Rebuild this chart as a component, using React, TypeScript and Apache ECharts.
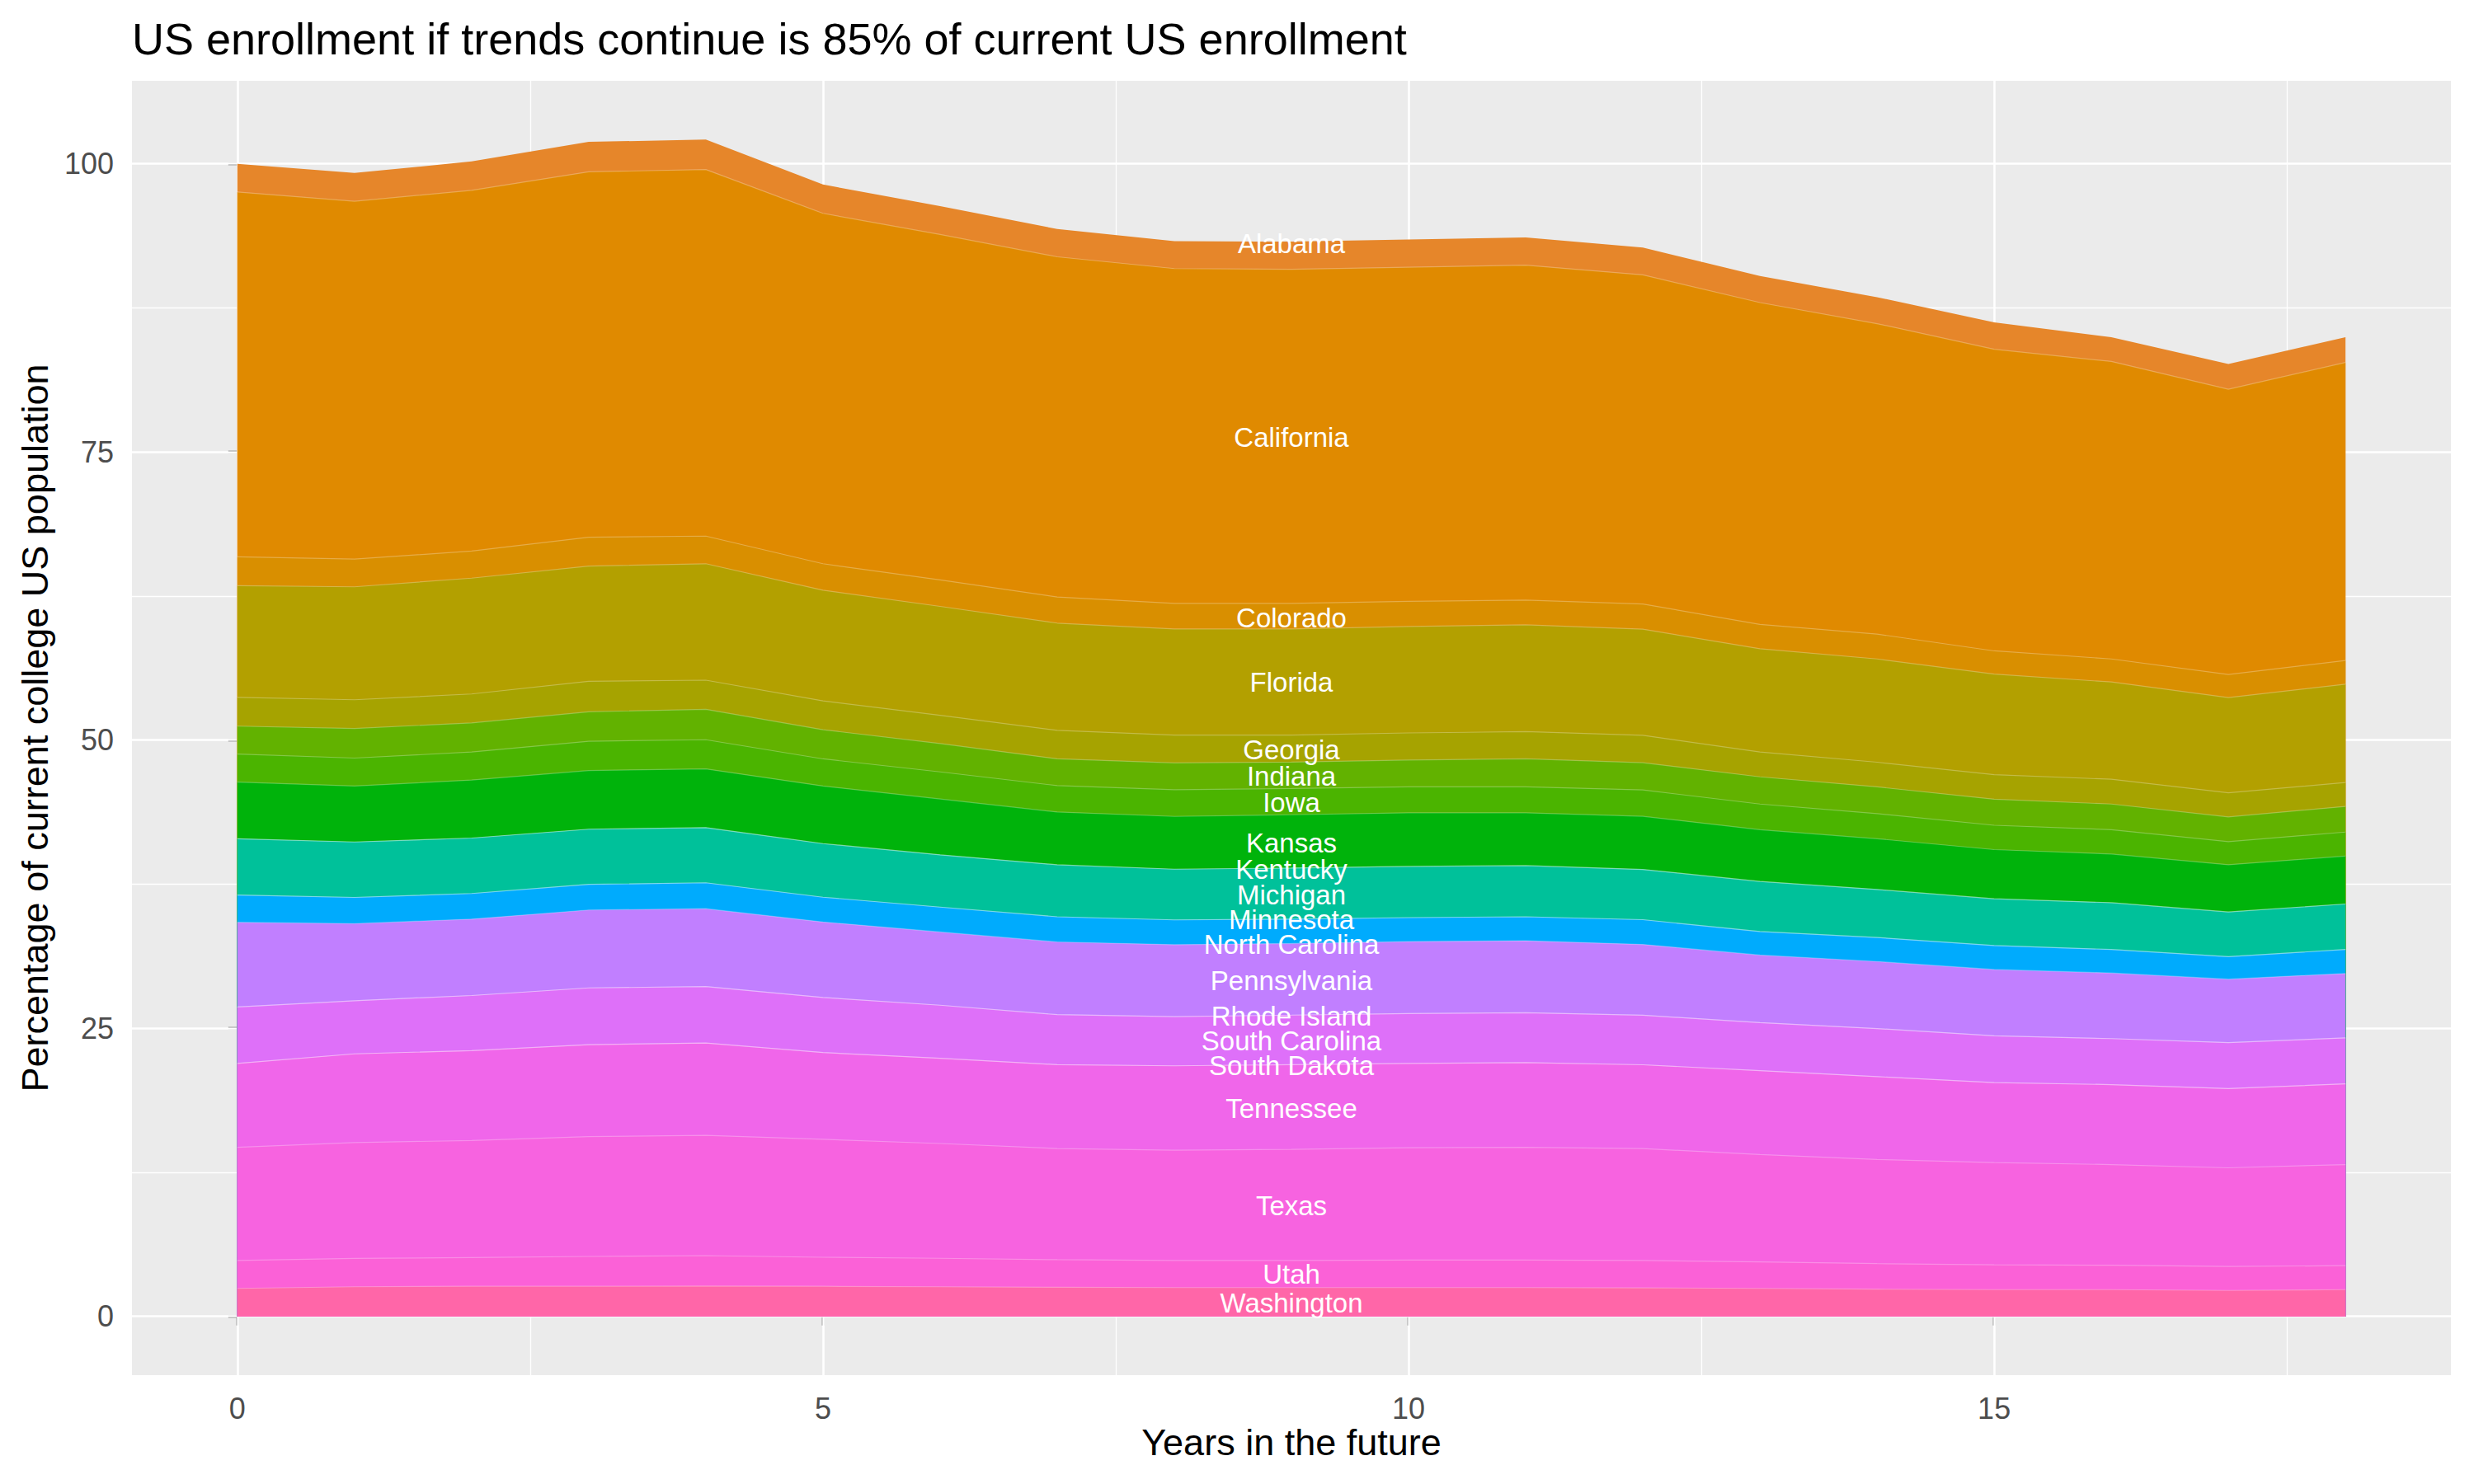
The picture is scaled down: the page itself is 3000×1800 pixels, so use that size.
import * as echarts from "echarts"
import { useEffect, useRef } from "react"

// years in the future
const years = [0, 1, 2, 3, 4, 5, 6, 7, 8, 9, 10, 11, 12, 13, 14, 15, 16, 17, 18]

// states, alphabetical (ggplot stacks the first level on top)
const states = [
  "Alabama",
  "California",
  "Colorado",
  "Florida",
  "Georgia",
  "Indiana",
  "Iowa",
  "Kansas",
  "Kentucky",
  "Michigan",
  "Minnesota",
  "North Carolina",
  "Pennsylvania",
  "Rhode Island",
  "South Carolina",
  "South Dakota",
  "Tennessee",
  "Texas",
  "Utah",
  "Washington",
]

// percentage of current college US population, per year
const alabama = [2.45, 2.45, 2.5, 2.6, 2.6, 2.5, 2.46, 2.41, 2.37, 2.41, 2.41, 2.41, 2.37, 2.3, 2.3, 2.33, 2.11, 2.19, 2.19]
const california = [31.65, 31.05, 31.3, 31.7, 31.8, 30.4, 29.97, 29.52, 29.05, 28.98, 28.98, 29.05, 28.55, 27.92, 26.93, 26.17, 25.81, 24.75, 25.87]
const colorado = [2.5, 2.4, 2.35, 2.5, 2.4, 2.3, 2.3, 2.26, 2.22, 2.22, 2.19, 2.15, 2.19, 2.12, 2.16, 2.01, 2.0, 2.0, 2.05]
const florida = [9.7, 9.8, 10.05, 10.0, 10.1, 9.6, 9.45, 9.31, 9.2, 9.2, 9.23, 9.27, 9.21, 8.95, 8.96, 8.73, 8.44, 8.27, 8.53]
const georgia = [2.49, 2.49, 2.51, 2.64, 2.53, 2.5, 2.45, 2.47, 2.42, 2.35, 2.35, 2.36, 2.37, 2.16, 2.14, 2.13, 2.15, 2.08, 2.08]
const indiana = [2.42, 2.57, 2.53, 2.56, 2.64, 2.53, 2.46, 2.32, 2.32, 2.29, 2.33, 2.43, 2.37, 2.36, 2.32, 2.26, 2.22, 2.15, 2.22]
const iowa = [2.43, 2.43, 2.43, 2.54, 2.53, 2.36, 2.35, 2.29, 2.32, 2.28, 2.25, 2.25, 2.28, 2.22, 2.18, 2.11, 2.11, 2.01, 2.08]
const kansas = [4.92, 4.85, 5.03, 5.09, 5.09, 4.99, 4.84, 4.58, 4.58, 4.62, 4.65, 4.58, 4.61, 4.5, 4.4, 4.27, 4.23, 4.09, 4.16]
const kentucky = [0, 0, 0, 0, 0, 0, 0, 0, 0, 0, 0, 0, 0, 0, 0, 0, 0, 0, 0]
const michigan = [4.89, 4.81, 4.81, 4.79, 4.79, 4.65, 4.54, 4.51, 4.4, 4.43, 4.44, 4.44, 4.36, 4.34, 4.17, 4.05, 4.06, 3.88, 3.95]
const minnesota = [0, 0, 0, 0, 0, 0, 0, 0, 0, 0, 0, 0, 0, 0, 0, 0, 0, 0, 0]
const northCarolina = [2.36, 2.27, 2.22, 2.22, 2.25, 2.15, 2.16, 2.18, 2.15, 2.12, 2.08, 2.08, 2.15, 2.04, 2.08, 2.08, 2.04, 1.95, 2.08]
const pennsylvania = [7.35, 6.69, 6.63, 6.76, 6.76, 6.55, 6.35, 6.31, 6.24, 6.21, 6.24, 6.24, 6.14, 5.86, 5.82, 5.76, 5.69, 5.51, 5.58]
const rhodeIsland = [0, 0, 0, 0, 0, 0, 0, 0, 0, 0, 0, 0, 0, 0, 0, 0, 0, 0, 0]
const southCarolina = [4.89, 4.61, 4.78, 4.92, 4.89, 4.78, 4.6, 4.34, 4.27, 4.3, 4.33, 4.33, 4.3, 4.17, 4.17, 4.06, 3.99, 3.99, 3.99]
const southDakota = [0, 0, 0, 0, 0, 0, 0, 0, 0, 0, 0, 0, 0, 0, 0, 0, 0, 0, 0]
const tennessee = [7.28, 7.7, 7.8, 7.98, 8.01, 7.53, 7.4, 7.28, 7.32, 7.35, 7.32, 7.35, 7.27, 7.28, 7.18, 6.93, 6.94, 6.87, 7.01]
const texas = [9.82, 10.05, 10.16, 10.4, 10.44, 10.23, 9.96, 9.64, 9.57, 9.64, 9.74, 9.78, 9.71, 9.32, 9.04, 8.88, 8.73, 8.56, 8.77]
const utah = [2.42, 2.46, 2.49, 2.59, 2.63, 2.52, 2.47, 2.39, 2.35, 2.35, 2.39, 2.39, 2.37, 2.29, 2.22, 2.15, 2.12, 2.08, 2.08]
const washington = [2.43, 2.57, 2.61, 2.61, 2.64, 2.61, 2.57, 2.53, 2.5, 2.5, 2.5, 2.5, 2.48, 2.43, 2.36, 2.32, 2.32, 2.25, 2.32]

const stateValues = [
  alabama, california, colorado, florida, georgia, indiana, iowa, kansas,
  kentucky, michigan, minnesota, northCarolina, pennsylvania, rhodeIsland,
  southCarolina, southDakota, tennessee, texas, utah, washington,
]

const stateColors = [
  "#E6862A", "#E08A00", "#D98F00", "#B3A000", "#A6A300", "#62B200", "#4BB400",
  "#00B30B", "#00BA82", "#00C19A", "#00B8C8", "#00ABFD", "#C17FFF", "#D277FC",
  "#DE70F9", "#E86BF2", "#F066EA", "#F763E0", "#FB61D7", "#FF66A8",
]

// where ggplot put the state names (x year, y percentage)
const labelX = 9
const labelY = [
  93.07, 76.24, 60.58, 55.0, 49.18, 46.87, 44.55, 41.09, 38.76, 36.57,
  34.42, 32.27, 29.16, 26.07, 23.87, 21.75, 18.05, 9.62, 3.69, 1.16,
]

const xTicks = [0, 5, 10, 15]
const xMinor = [2.5, 7.5, 12.5, 17.5]
const yTicks = [0, 25, 50, 75, 100]
const yMinor = [12.5, 37.5, 62.5, 87.5]

const FONT = "'Liberation Sans', Arial, Helvetica, sans-serif"

export default function App() {
  const ref = useRef<HTMLDivElement>(null)

  useEffect(() => {
    if (!ref.current) return
    const chart = echarts.init(ref.current, undefined, { renderer: "svg" })

    const major = { color: "#FFFFFF", width: 2.6, type: "solid" as const }
    const minor = { color: "#FFFFFF", width: 1.3, type: "solid" as const }
    const gridLines = [
      ...xTicks.map((v) => ({ xAxis: v, lineStyle: major })),
      ...xMinor.map((v) => ({ xAxis: v, lineStyle: minor })),
      ...yTicks.map((v) => ({ yAxis: v, lineStyle: major })),
      ...yMinor.map((v) => ({ yAxis: v, lineStyle: minor })),
    ]

    // top edge of each state's band = its value plus every state stacked below it;
    // bands are painted top-first so each lower band covers the rest of the fill
    const areaSeries = states.map((name, i) => ({
      name,
      type: "line",
      data: years.map((x, j) => {
        let top = 0
        for (let k = i; k < states.length; k++) top += stateValues[k][j]
        return [x, +top.toFixed(3)]
      }),
      symbol: "none",
      // faint light seam along each band's upper edge, as in the ggplot render
      lineStyle:
        i === 0
          ? { width: 0, color: stateColors[i] }
          : { width: 1.2, color: "rgba(255,255,255,0.28)" },
      areaStyle: { color: stateColors[i], opacity: 1, origin: 0 },
      itemStyle: { color: stateColors[i] },
      z: 2,
      silent: true,
      markLine:
        i === 0
          ? {
              silent: true,
              symbol: "none",
              z: 1,
              label: { show: false },
              data: gridLines,
              animation: false,
            }
          : undefined,
    }))

    chart.setOption({
      animation: false,
      backgroundColor: "#FFFFFF",
      textStyle: { fontFamily: FONT },
      grid: {
        left: 160,
        right: 28,
        top: 98,
        bottom: 132,
        show: true,
        backgroundColor: "#EBEBEB",
        borderWidth: 0,
      },
      xAxis: {
        type: "value",
        min: -0.9,
        max: 18.9,
        axisLine: { show: false },
        axisTick: {
          customValues: xTicks,
          length: 11,
          lineStyle: { color: "#333333", width: 2.4 },
        },
        axisLabel: {
          customValues: xTicks,
          margin: 22,
          color: "#4D4D4D",
          fontSize: 36,
          fontFamily: FONT,
        },
        splitLine: { show: false },
      },
      yAxis: {
        type: "value",
        min: -5.1,
        max: 107.2,
        axisLine: { show: false },
        axisTick: {
          customValues: yTicks,
          length: 11,
          lineStyle: { color: "#333333", width: 2.4 },
        },
        axisLabel: {
          customValues: yTicks,
          margin: 22,
          color: "#4D4D4D",
          fontSize: 36,
          fontFamily: FONT,
        },
        splitLine: { show: false },
      },
      graphic: [
        {
          type: "text",
          left: 160,
          top: 20,
          style: {
            text: "US enrollment if trends continue is 85% of current US enrollment",
            fill: "#000000",
            fontSize: 54,
            fontFamily: FONT,
          },
        },
        {
          type: "text",
          x: 1566,
          y: 1749,
          style: {
            text: "Years in the future",
            fill: "#000000",
            fontSize: 45,
            fontFamily: FONT,
            align: "center",
            verticalAlign: "middle",
          },
        },
        {
          type: "text",
          x: 42,
          y: 883,
          rotation: Math.PI / 2,
          style: {
            text: "Percentage of current college US population",
            fill: "#000000",
            fontSize: 45,
            fontFamily: FONT,
            align: "center",
            verticalAlign: "middle",
          },
        },
      ],
      series: [
        ...areaSeries,
        {
          type: "custom",
          name: "labels",
          silent: true,
          z: 10,
          data: labelY.map((y) => [labelX, y]),
          encode: { x: 0, y: 1 },
          renderItem: (params: any, api: any) => {
            const p = api.coord([api.value(0), api.value(1)])
            return {
              type: "text",
              x: p[0],
              y: p[1],
              style: {
                text: states[params.dataIndex],
                fill: "#FFFFFF",
                fontSize: 33,
                fontFamily: FONT,
                align: "center",
                verticalAlign: "middle",
              },
            }
          },
        },
      ],
    })

    return () => {
      chart.dispose()
    }
  }, [])

  return (
    <div
      ref={ref}
      style={{ position: "absolute", left: 0, top: 0, width: 3000, height: 1800 }}
    />
  )
}
